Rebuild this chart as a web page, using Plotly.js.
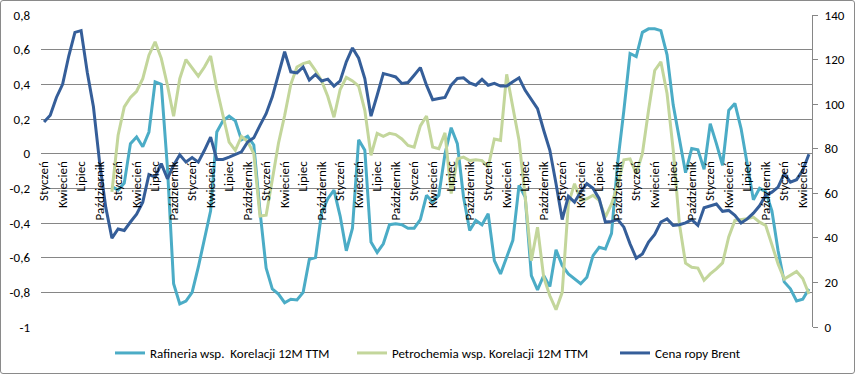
<!DOCTYPE html>
<html>
<head>
<meta charset="utf-8">
<script src="https://cdn.plot.ly/plotly-3.0.1.min.js"></script>
<style>
  html, body { margin: 0; padding: 0; background: #fff; }
  #wrap { position: relative; width: 855px; height: 374px; }
  #chart { width: 855px; height: 374px; }
  #frame { position: absolute; left: 0; top: 0; width: 853px; height: 372px;
           border: 1px solid #8a8a8a; border-radius: 3px; pointer-events: none; }
</style>
</head>
<body>
<div id="wrap"><div id="chart"></div><div id="frame"></div></div>
<script>
// Month names used as category tick labels (monthly data, Jan 2008 .. May 2018)
const monthNames = ["Styczeń","Luty","Marzec","Kwiecień","Maj","Czerwiec","Lipiec","Sierpień","Wrzesień","Październik","Listopad","Grudzień"];

// Cena ropy Brent (USD, right axis)
const brent = [92.0,95.0,103.0,108.9,121.6,132.2,133.0,114.3,98.8,73.9,53.7,39.9,
  44.0,43.3,47.1,50.6,56.0,68.4,67.3,73.3,66.5,72.6,77.3,74.0,
  76.0,74.0,79.3,85.2,75.2,75.2,76.2,77.3,78.6,83.0,84.9,90.5,
  95.7,103.3,113.7,123.5,114.5,114.0,116.7,110.8,113.3,110.4,111.2,108.1,
  110.4,119.0,125.2,120.6,111.5,94.6,104.0,113.7,113.0,112.2,109.3,109.7,
  113.0,116.4,108.5,102.0,102.5,103.0,108.5,111.5,111.8,109.5,108.5,111.1,
  108.5,109.3,108.1,108.1,110.0,111.8,106.2,102.0,98.0,88.3,79.3,64.3,
  48.2,58.6,56.0,60.7,64.3,62.2,57.6,47.1,47.4,48.2,44.8,37.3,
  30.9,32.8,38.1,41.5,47.1,48.5,45.6,45.9,46.7,48.2,45.6,53.5,
  54.4,55.2,51.9,52.3,50.1,46.7,48.5,51.1,54.4,59.1,60.5,62.8,
  68.8,65.0,66.1,70.3,77.5];

// Rafineria wsp. Korelacji 12M TTM (left axis)
const rafineria = [null,null,null,null,null,null,null,null,null,null,null,-0.19,
  -0.21,-0.17,0.058,0.096,0.04,0.125,0.414,0.40,-0.08,-0.75,-0.867,-0.85,
  -0.80,-0.655,-0.50,-0.33,0.125,0.19,0.216,0.19,0.08,0.10,0.05,-0.33,
  -0.66,-0.78,-0.81,-0.86,-0.84,-0.844,-0.80,-0.61,-0.60,-0.34,-0.26,-0.21,
  -0.36,-0.56,-0.43,0.08,0.02,-0.51,-0.57,-0.52,-0.41,-0.405,-0.41,-0.43,
  -0.43,-0.38,-0.24,-0.28,-0.24,0.0,0.15,0.058,-0.25,-0.443,-0.385,-0.41,
  -0.347,-0.617,-0.694,-0.597,-0.50,-0.183,-0.25,-0.703,-0.786,-0.703,-0.767,-0.555,
  -0.645,-0.694,-0.722,-0.75,-0.713,-0.588,-0.54,-0.55,-0.46,-0.05,0.25,0.578,
  0.56,0.70,0.72,0.72,0.71,0.57,0.28,0.096,-0.11,0.03,0.023,-0.09,
  0.173,0.058,-0.067,0.25,0.29,0.145,-0.058,-0.266,-0.20,-0.22,-0.33,-0.56,
  -0.74,-0.78,-0.85,-0.84,-0.78];

// Petrochemia wsp. Korelacji 12M TTM (left axis)
const petrochemia = [null,null,null,null,null,null,null,null,null,null,null,-0.22,
  0.106,0.27,0.324,0.36,0.433,0.568,0.645,0.55,0.395,0.216,0.433,0.543,
  0.497,0.447,0.50,0.563,0.376,0.212,0.067,0.019,0.10,0.07,0.0,-0.36,
  -0.355,-0.15,0.06,0.22,0.40,0.50,0.52,0.53,0.48,0.42,0.33,0.21,
  0.37,0.44,0.42,0.39,0.25,-0.01,0.117,0.10,0.117,0.11,0.085,0.047,
  0.038,0.16,0.217,0.038,0.028,0.12,-0.23,-0.03,-0.02,-0.04,-0.035,-0.04,
  -0.077,0.085,0.077,0.458,0.27,0.077,-0.25,-0.617,-0.424,-0.713,-0.82,-0.90,
  -0.80,-0.29,-0.173,-0.27,-0.26,-0.24,-0.27,-0.366,-0.29,-0.18,-0.035,-0.03,
  -0.116,0.0,0.25,0.48,0.53,0.347,0.02,-0.405,-0.632,-0.655,-0.66,-0.73,
  -0.694,-0.665,-0.63,-0.48,-0.385,-0.38,-0.376,-0.366,-0.395,-0.414,-0.52,-0.636,
  -0.723,-0.70,-0.68,-0.72,-0.81];

// Left axis tick labels / values
const leftTickVals = [-1,-0.8,-0.6,-0.4,-0.2,0,0.2,0.4,0.6,0.8];
const leftTickText = ["-1","-0,8","-0,6","-0,4","-0,2","0","0,2","0,4","0,6","0,8"];
const rightTickVals = [0,20,40,60,80,100,120,140];

const seriesNames = ["Rafineria wsp.  Korelacji 12M TTM","Petrochemia wsp. Korelacji 12M TTM","Cena ropy Brent"];

const n = brent.length;
const xs = brent.map((_, i) => i);
const categories = xs.map(i => monthNames[i % 12]);
const tickVals = xs.filter(i => i % 3 === 0);
const tickText = tickVals.map(i => categories[i]);

const FONT = "Carlito, Lato, 'Liberation Sans', sans-serif";

const traces = [
  { x: xs, y: rafineria, name: seriesNames[0], type: "scatter", mode: "lines",
    line: { color: "#4BACC6", width: 3 }, legend: "legend", yaxis: "y" },
  { x: xs, y: petrochemia, name: seriesNames[1], type: "scatter", mode: "lines",
    line: { color: "#C3D69B", width: 3 }, legend: "legend2", yaxis: "y" },
  { x: xs, y: brent, name: seriesNames[2], type: "scatter", mode: "lines",
    line: { color: "#355E99", width: 3 }, legend: "legend3", yaxis: "y2" }
];

const W = 855, H = 374, ML = 41, MR = 43, MT = 15, MB = 47;
const pw = W - ML - MR, ph = H - MT - MB;
const legY = -(353 - (H - MB)) / ph;
const legStyle = (left) => ({ x: (left - ML) / pw, xanchor: "left", y: legY, yanchor: "middle",
  orientation: "h", bgcolor: "rgba(0,0,0,0)", borderwidth: 0,
  font: { family: FONT, size: 13, color: "#000" } });

const layout = {
  width: W, height: H,
  margin: { l: ML, r: MR, t: MT, b: MB, pad: 0, autoexpand: false },
  paper_bgcolor: "#fff", plot_bgcolor: "#fff",
  font: { family: FONT, size: 13, color: "#000" },
  showlegend: true,
  legend: legStyle(110),
  legend2: legStyle(352),
  legend3: legStyle(615),
  xaxis: {
    range: [-0.5, n - 0.5],
    anchor: "free", position: 1 / 1.8,
    tickmode: "array", tickvals: tickVals, ticktext: tickText,
    tickangle: -90, ticks: "", showgrid: false, zeroline: false, showline: false,
    ticklabelstandoff: 4,
    tickfont: { family: FONT, size: 13, color: "#000" },
    automargin: false, fixedrange: true
  },
  yaxis: {
    range: [-1, 0.8], tickmode: "array", tickvals: leftTickVals, ticktext: leftTickText,
    showgrid: true, gridcolor: "#868686", gridwidth: 1, zeroline: false, showline: false,
    ticks: "", ticklabelstandoff: 10,
    tickfont: { family: FONT, size: 13, color: "#000" }, automargin: false
  },
  yaxis2: {
    range: [0, 140], overlaying: "y", side: "right", tickmode: "array", tickvals: rightTickVals,
    showgrid: false, zeroline: false, showline: true, linecolor: "#868686", linewidth: 1,
    ticks: "outside", ticklen: 5, tickcolor: "#868686", ticklabelstandoff: 4,
    tickfont: { family: FONT, size: 13, color: "#000" }, automargin: false
  }
};

Plotly.newPlot("chart", traces, layout, { displayModeBar: false, staticPlot: true });
</script>
</body>
</html>
